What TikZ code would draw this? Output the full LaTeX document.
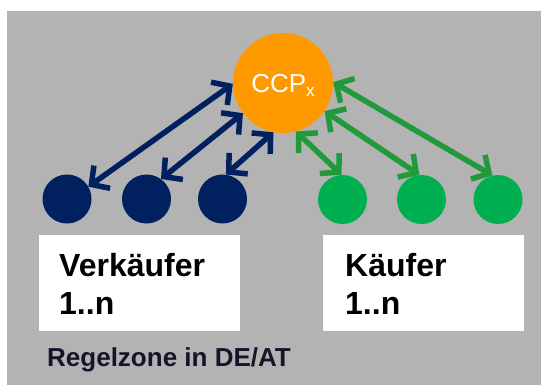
\documentclass[tikz,border=0pt]{standalone}
\usepackage{fontspec}
\setmainfont{Liberation Sans}
\usetikzlibrary{arrows.meta}
\definecolor{panelgray}{HTML}{B3B3B3}
\definecolor{ccporange}{HTML}{FF9900}
\definecolor{sellerblue}{HTML}{002060}
\definecolor{buyergreen}{HTML}{00B050}
\definecolor{linkgreen}{HTML}{229A3C}
\definecolor{zonetext}{HTML}{15152A}
\tikzset{
  party/.style={circle, minimum size=49pt, inner sep=0pt, draw=none},
  seller/.style={party, fill=sellerblue},
  buyer/.style={party, fill=buyergreen},
  barb/.tip={Straight Barb[length=13pt,width=28pt,line width=5.5pt]},
  sellerlink/.style={draw=sellerblue, line width=5.5pt, barb-barb},
  buyerlink/.style={draw=linkgreen, line width=5.5pt, barb-barb},
  labelbox/.style={fill=white, draw=none, minimum width=201pt, minimum height=96pt, inner sep=0pt},
  boxtext/.style={anchor=base west, inner sep=0pt, font=\fontsize{32}{38}\selectfont\bfseries}
}
\begin{document}
\begin{tikzpicture}[x=1pt,y=-1pt]
  % canvas and grey panel
  \useasboundingbox (0,0) rectangle (541,385);
  \fill[white] (0,0) rectangle (541,385);
  \fill[panelgray] (7,11) rectangle (541,385);

  % central counterparty
  \node[circle, fill=ccporange, minimum size=100pt, inner sep=0pt,
        text=white, font=\fontsize{26}{26}\selectfont,
        text height=19pt, text depth=0pt] (ccp) at (283,83)
        {CCP\raisebox{-4pt}{\fontsize{17}{17}\selectfont x}};

  % sellers and buyers
  \node[seller] (s1) at (67,199) {};
  \node[seller] (s2) at (146.5,199) {};
  \node[seller] (s3) at (222.5,199) {};
  \node[buyer] (b1) at (342.5,199.5) {};
  \node[buyer] (b2) at (421.5,199.5) {};
  \node[buyer] (b3) at (498,199.5) {};

  % trade links to the CCP
  \draw[sellerlink] (s1.30) -- (ccp.181);
  \draw[sellerlink] (s2.54) -- (ccp.217);
  \draw[sellerlink] (s3.82) -- (ccp.259);
  \draw[buyerlink] (b1.92) -- (ccp.285);
  \draw[buyerlink] (b2.95) -- (ccp.326);
  \draw[buyerlink] (b3.103) -- (ccp.1);

  % captions
  \node[labelbox] (sellerbox) at (139.5,283) {};
  \node[labelbox] (buyerbox) at (423.5,283) {};
  \node[boxtext] (sellername) at (59,276) {Verkäufer};
  \node[boxtext] (sellercount) at (59,314) {1..n};
  \node[boxtext] (buyername) at (345,276) {Käufer};
  \node[boxtext] (buyercount) at (345,314) {1..n};

  \node[anchor=base west, inner sep=0pt, text=zonetext,
        font=\fontsize{26}{26}\selectfont\bfseries] (zone) at (47,366.7)
        {Regelzone in DE/AT};
\end{tikzpicture}
\end{document}
